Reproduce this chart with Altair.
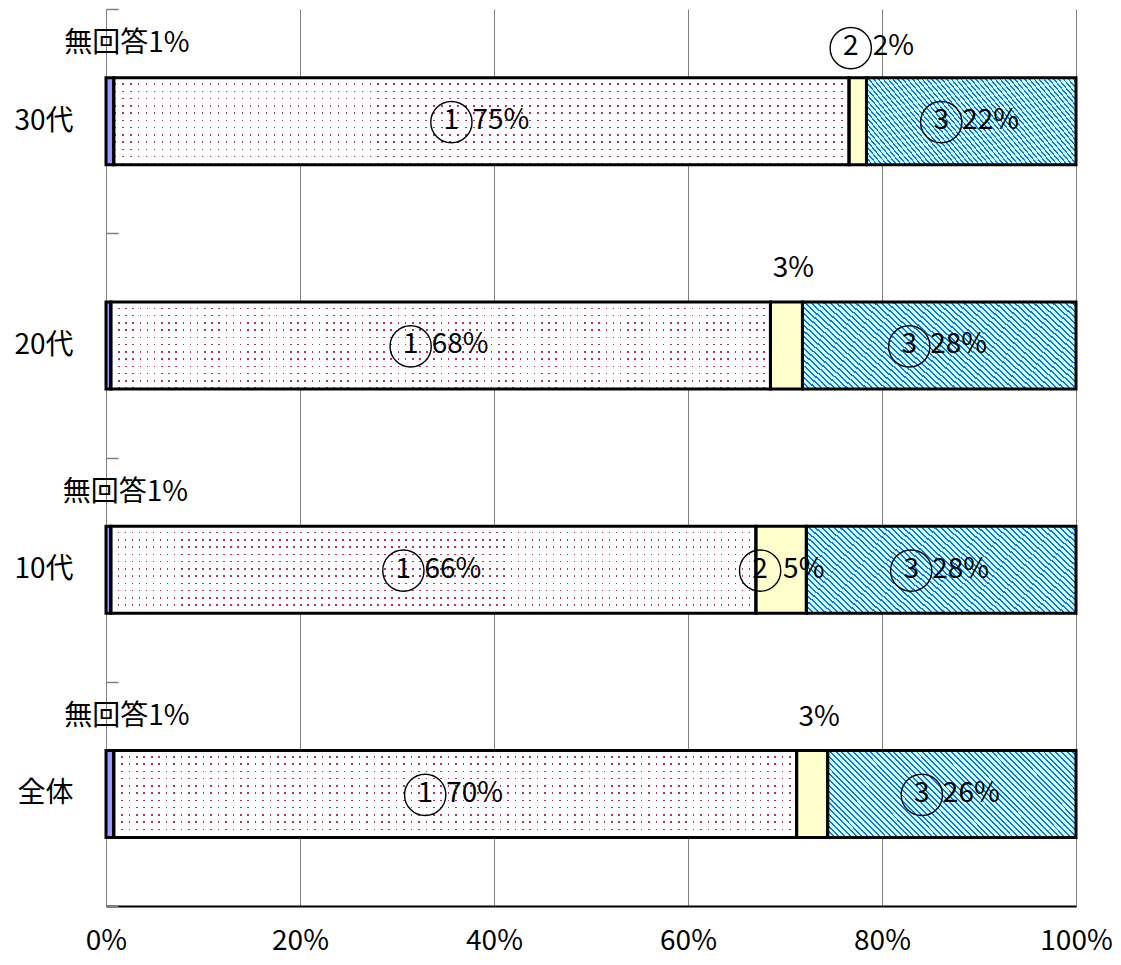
import altair as alt
import pandas as pd

# ---- data ----
categories = ["30代", "20代", "10代", "全体"]
segments = ["無回答", "①", "②", "③"]
no_answer = [0.8, 0.5, 0.5, 0.8]
ans1 = [75.8, 68.0, 66.5, 70.4]
ans2 = [1.8, 3.3, 5.2, 3.2]
ans3 = [21.6, 28.2, 27.8, 25.6]

label_ans1 = ["①75%", "①68%", "①66%", "①70%"]
label_ans3 = ["③22%", "③28%", "③28%", "③26%"]
label_no_answer = ["無回答1%", "", "無回答1%", "無回答1%"]
label_ans2 = ["②2%", "3%", "②5%", "3%"]
ans2_inside = [False, False, True, False]
x_ticks = [0, 20, 40, 60, 80, 100]

FONT = "Noto Sans CJK JP"
CIRCLED = {"①": "1", "②": "2", "③": "3"}

W, H = 970, 897
HALF_BAND = H / len(categories) / 2

# ---- long table with stacked extents ----
rows = []
for i, cat in enumerate(categories):
    vals = [no_answer[i], ans1[i], ans2[i], ans3[i]]
    start = 0.0
    for seg, v in zip(segments, vals):
        rows.append({"category": cat, "segment": seg, "start": start,
                     "end": start + v, "mid": start + v / 2})
        start += v
df = pd.DataFrame(rows)


def seg_rows(seg):
    return df[df["segment"] == seg]


def mid_of(cat, seg):
    return df[(df.category == cat) & (df.segment == seg)].iloc[0]["mid"]


def label_row(cat, seg, label):
    r = {"category": cat, "mid": mid_of(cat, seg), "label": label,
         "digit": "", "rest": label}
    if label and label[0] in CIRCLED:
        r["digit"] = CIRCLED[label[0]]
        r["rest"] = label[1:]
    return r


grp_inside = []       # ① and ③ labels inside the bars
grp_2_inside = []     # ② label inside the bar
grp_2_above = []      # ② label with circle above the bar
grp_plain_above = []  # "3%" above the bar
grp_na = []           # 無回答 labels above the bar
for i, cat in enumerate(categories):
    grp_inside.append(label_row(cat, "①", label_ans1[i]))
    grp_inside.append(label_row(cat, "③", label_ans3[i]))
    r2 = label_row(cat, "②", label_ans2[i])
    if ans2_inside[i]:
        grp_2_inside.append(r2)
    elif r2["digit"]:
        grp_2_above.append(r2)
    else:
        grp_plain_above.append(r2)
    if label_no_answer[i]:
        grp_na.append(label_row(cat, "無回答", label_no_answer[i]))


# ---- pattern fills built from hard-stop gradients ----
def stripe_gradient(n, frac, on, off, x1, y1, x2, y2):
    stops = []
    for k in range(n):
        a = k / n
        b = (k + frac) / n
        c = (k + 1) / n
        stops += [{"offset": a, "color": on}, {"offset": b, "color": on},
                  {"offset": b, "color": off}, {"offset": c, "color": off}]
    return {"gradient": "linear", "stops": stops,
            "x1": x1, "y1": y1, "x2": x2, "y2": y2}


CLEAR = "rgba(255,255,255,0)"
dot_cols = stripe_gradient(92, 0.22, "#b0306e", CLEAR, 0, 0, 1, 0)
dot_mask = stripe_gradient(12, 0.78, "#ffffff", CLEAR, 0, 0, 0, 1)
hatch = stripe_gradient(58, 0.34, "#1174dc", "#ccffff", 0, 1, 1.2025, 0.5815)

Y_CAT = alt.Y("category:N", sort=categories)
y_enc = alt.Y("category:N", sort=categories,
              scale=alt.Scale(domain=categories, paddingInner=0, paddingOuter=0),
              axis=alt.Axis(title=None, orient="left", offset=-12, domain=False,
                            ticks=True, tickSize=12, tickColor="#808080",
                            tickWidth=1.5, tickBand="extent",
                            labelFontSize=28, labelColor="black",
                            labelPadding=33, labelFont=FONT))
x_enc = alt.X("start:Q",
              scale=alt.Scale(domain=[0, 100], nice=False, zero=True),
              axis=alt.Axis(title=None, values=x_ticks, grid=True,
                            gridColor="#808080", gridWidth=1,
                            domainColor="black", domainWidth=2,
                            ticks=False, labelFontSize=28, labelColor="black",
                            labelPadding=21, labelFont=FONT, labelFlush=False,
                            labelExpr="datum.value + '%'"))

BAR = 87


def bars(data, **kw):
    return alt.Chart(data).mark_bar(size=BAR, **kw).encode(
        y=y_enc, x=x_enc, x2="end:Q")


layers = [
    bars(seg_rows("無回答"), fill="#9999ff"),
    bars(seg_rows("①"), fill="#ffffff"),
    bars(seg_rows("①"), fill=dot_cols),
    bars(seg_rows("①"), fill=dot_mask),
    bars(seg_rows("②"), fill="#ffffcc"),
    bars(seg_rows("③"), fill=hatch),
    bars(df, fill="transparent", stroke="black", strokeWidth=3),
]


def text_layer(data, field, dx, dy, align="center"):
    return alt.Chart(pd.DataFrame(data)).mark_text(
        font=FONT, fontSize=28, color="black", align=align,
        baseline="middle", dx=dx, dy=dy
    ).encode(y=Y_CAT, x=alt.X("mid:Q"), text=f"{field}:N")


def circled_layers(data, circ_dx, rest_dx, dy):
    circ = alt.Chart(pd.DataFrame(data)).mark_point(
        shape="circle", filled=False, stroke="black", strokeWidth=1.4,
        size=1700, opacity=1
    ).encode(y=Y_CAT, x=alt.X("mid:Q"),
             xOffset=alt.value(circ_dx), yOffset=alt.value(HALF_BAND + dy + 1))
    return [circ,
            text_layer(data, "digit", circ_dx, dy),
            text_layer(data, "rest", rest_dx, dy, align="left")]


layers += circled_layers(grp_inside, -30, -9, 0)
layers += circled_layers(grp_2_inside, -21, 2, 0)
layers += circled_layers(grp_2_above, -7, 15, -74)
layers.append(text_layer(grp_plain_above, "rest", 7, -76))
layers.append(text_layer(grp_na, "rest", 17, -77))

chart = alt.layer(*layers).properties(
    width=W, height=H,
    autosize=alt.AutoSizeParams(type="none"),
    padding={"left": 98, "top": 1, "right": 36, "bottom": 51},
).configure(font=FONT).configure_view(strokeWidth=0)

chart.save("out.html", embed_options={"renderer": "svg", "actions": False})
